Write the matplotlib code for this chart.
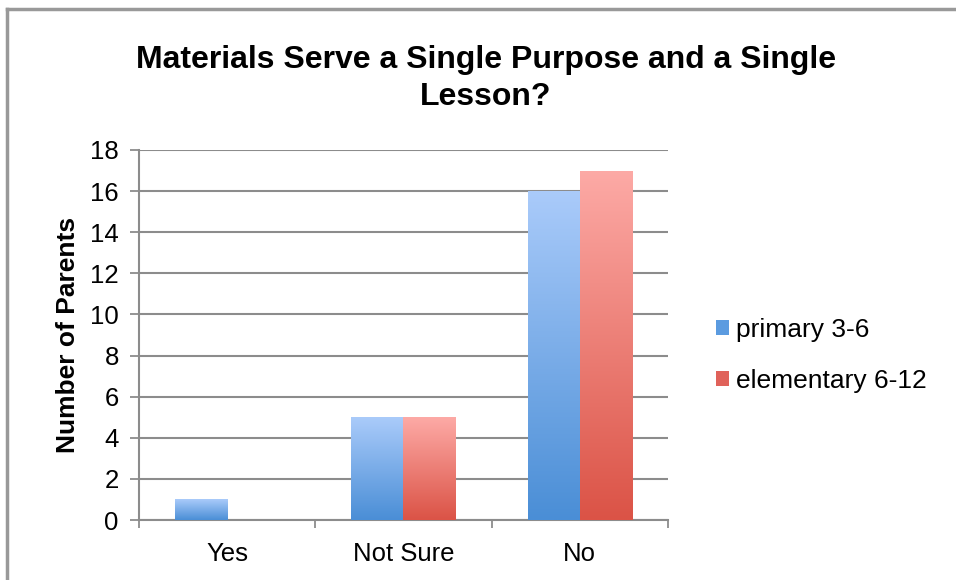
import numpy as np
import matplotlib
matplotlib.use("Agg")
import matplotlib.pyplot as plt
from matplotlib.colors import LinearSegmentedColormap
from matplotlib.lines import Line2D
from matplotlib.patches import Rectangle

categories = ["Yes", "Not Sure", "No"]
series_names = ["primary 3-6", "elementary 6-12"]
primary = [1, 5, 16]
elementary = [0, 5, 17]
y_ticks = [0, 2, 4, 6, 8, 10, 12, 14, 16, 18]

plt.rcParams['font.family'] = ['Liberation Sans', 'DejaVu Sans']

# light top -> dark bottom, like the Excel gradient fill
blue_top, blue_bot = "#aacbfa", "#4a8ed6"
red_top, red_bot = "#fdaaa6", "#db5346"

fig = plt.figure(figsize=(9.56, 5.8), dpi=100)
ax = fig.add_axes([0.1454, 0.1034, 0.5533, 0.638])

x = np.arange(len(categories))
w = 0.295


def grad_bars(xpos, vals, top, bot):
    cmap = LinearSegmentedColormap.from_list("g", [bot, top])
    grad = np.linspace(0, 1, 256).reshape(-1, 1)
    bars = ax.bar(xpos, vals, w, color=bot, linewidth=0, zorder=3)
    for b in bars:
        if b.get_height() <= 0:
            continue
        b.set_facecolor("none")
        x0, y0 = b.get_x(), b.get_y()
        im = ax.imshow(grad, cmap=cmap, aspect="auto", origin="lower",
                       extent=[x0, x0 + b.get_width(), y0, y0 + b.get_height()],
                       zorder=3)
        im.set_clip_path(b)
    return bars


grad_bars(x - w / 2, primary, blue_top, blue_bot)
grad_bars(x + w / 2, elementary, red_top, red_bot)

ax.set_xlim(-0.5, len(categories) - 0.5)
ax.set_ylim(0, 18)
ax.set_yticks(y_ticks)
ax.tick_params(axis="y", labelsize=18.5, length=6.5, width=1.3, color="#8c8c8c", pad=8)
ax.set_xticks(np.arange(len(categories) + 1) - 0.5)
ax.set_xticklabels([])
ax.tick_params(axis="x", which="major", length=6, width=1.3, color="#8c8c8c", direction="out")
ax.set_xticks(x, minor=True)
ax.set_xticklabels(categories, minor=True)
ax.tick_params(axis="x", which="minor", length=0, labelsize=18.5, pad=16)

ax.grid(axis="y", color="#8c8c8c", linewidth=1.5, zorder=1)
ax.set_axisbelow(True)
for s in ["top", "right"]:
    ax.spines[s].set_visible(False)
for s in ["left", "bottom"]:
    ax.spines[s].set_color("#8c8c8c")
    ax.spines[s].set_linewidth(1.5)

ax.set_ylabel("Number of Parents", fontsize=19, fontweight="bold")
ax.yaxis.set_label_coords(-0.112, 0.5)

fig.text(0.508, 0.864, "Materials Serve a Single Purpose and a Single\nLesson?",
         ha="center", va="center", fontsize=23, fontweight="bold", linespacing=1.3)

handles = [Rectangle((0, 0), 1, 1, facecolor="#5b9be0", edgecolor="none"),
           Rectangle((0, 0), 1, 1, facecolor="#e0625a", edgecolor="none")]
fig.legend(handles, series_names, loc="center left", bbox_to_anchor=(0.724, 0.387),
           frameon=False, fontsize=19, handlelength=0.5, handleheight=0.5,
           handletextpad=0.25, labelspacing=1.0)

# chart frame: only left and top edges visible in the crop
fig.add_artist(Line2D([0.0068, 0.0068], [0, 0.985], color="#999999", lw=2.5))
fig.add_artist(Line2D([0.0068, 1], [0.985, 0.985], color="#999999", lw=2.5))

fig.savefig("out.png", dpi=100)
